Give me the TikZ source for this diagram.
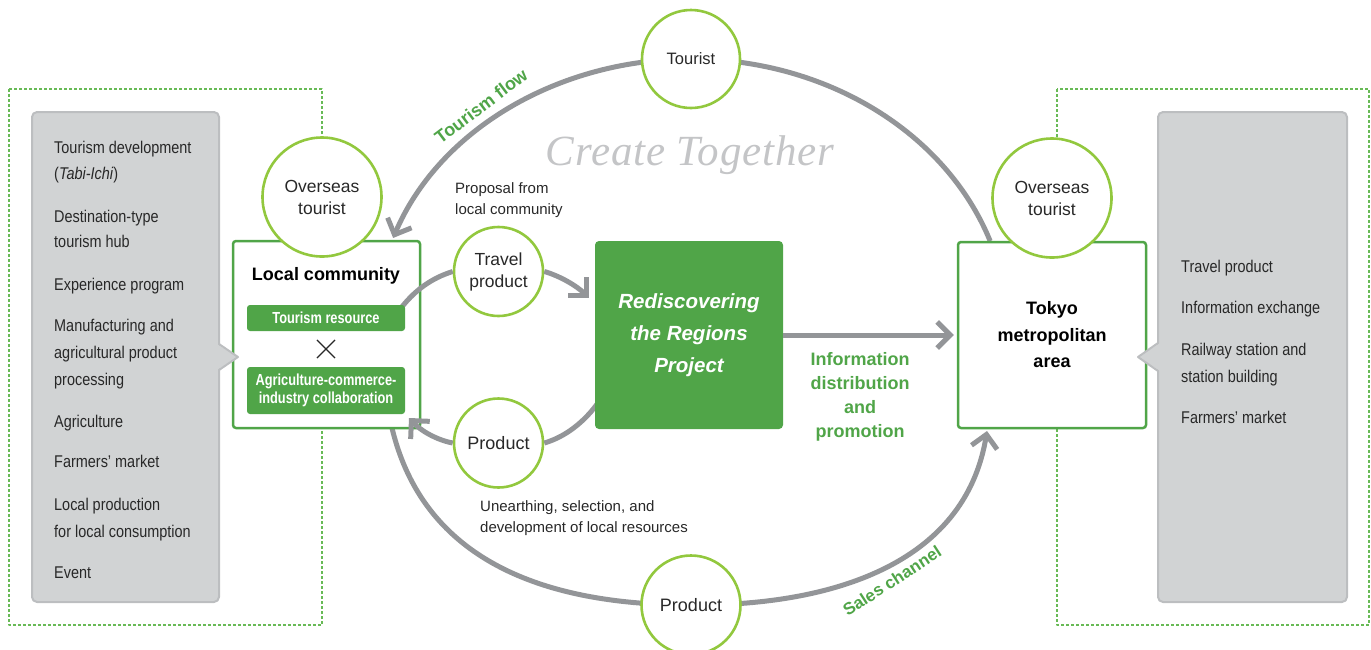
\documentclass[tikz,border=0pt]{standalone}
\usepackage{fontspec}
\usetikzlibrary{arrows.meta,shapes.misc}
\newfontfamily\hv{Liberation Sans}
\newfontfamily\hvn[FakeStretch=0.85]{Liberation Sans}
\newfontfamily\hvc[FakeStretch=0.8]{Liberation Sans}
\newfontfamily\tms[LetterSpace=2]{Liberation Serif}
\definecolor{leaf}{RGB}{80,165,72}
\definecolor{lime}{RGB}{146,200,62}
\definecolor{dashgreen}{RGB}{104,186,86}
\definecolor{flowgray}{RGB}{147,149,152}
\definecolor{panelfill}{RGB}{209,211,212}
\definecolor{panelline}{RGB}{188,190,192}
\definecolor{ink}{RGB}{40,40,40}
\definecolor{ghost}{RGB}{196,197,199}
\newcommand{\fs}[2]{\fontsize{#1}{#2}\selectfont}
\begin{document}
\begin{tikzpicture}[x=1pt, y=-1pt, line join=round, >={Straight Barb[length=13pt,width=26pt]},
	flow/.style={draw=flowgray, line width=5pt},
	bubble/.style={circle, draw=lime, line width=2.6pt, fill=white, inner sep=0pt, align=center, text=ink, font=\hv\fs{17.5}{22}},
	framebox/.style={rectangle, draw=leaf, line width=2.5pt, fill=white, rounded corners=3pt, inner sep=0pt},
	bar/.style={rectangle, fill=leaf, rounded corners=3pt, minimum width=158pt, inner sep=0pt, text=white, align=center, font=\hvc\bfseries\fs{16}{18.5}},
	panel/.style={fill=panelfill, draw=panelline, line width=2pt},
	zone/.style={draw=dashgreen, line width=1.2pt, dash pattern=on 3pt off 2pt},
	item/.style={anchor=base west, inner sep=0pt, text=ink, font=\hvn\fs{17}{26}},
	greenlabel/.style={text=leaf, align=center, font=\hv\bfseries\fs{18}{24}},
	note/.style={text=ink, align=left, inner sep=0pt, font=\hv\fs{15}{21}}]
	\useasboundingbox (0,0) rectangle (1371,649);
	\draw[zone] (9,89) rectangle (322,625);
	\draw[zone] (1057,89) rectangle (1369,625);
	
	\coordinate (tourTop) at (691,59);
	\coordinate (prodBot) at (691,605);
	\coordinate (lcFoot) at (392,428);
	\coordinate (tkFoot) at (987,431);
	\draw[flow,->] (tourTop) arc[start angle=270, end angle=200, x radius=317, y radius=272];
	\draw[flow] (tourTop) arc[start angle=270, end angle=340.7, x radius=317, y radius=272];
	\draw[flow] (lcFoot) .. controls (420,545) and (520,605) .. (prodBot);
	\draw[flow,->] (prodBot) .. controls (830,606) and (965,565) .. (tkFoot);
	
	\node[framebox, minimum width=187pt, minimum height=187pt] (local) at (326.5,334.5) {};
	\node[framebox, minimum width=188pt, minimum height=186pt, align=center, text=black, font=\hv\bfseries\fs{18}{26.5}] (tokyo) at (1052,335) {Tokyo\\metropolitan\\area};
	\node[bubble, minimum size=119pt] (osLeft) at (322,197) {Overseas\\tourist};
	\node[bubble, minimum size=119pt] (osRight) at (1052,198) {Overseas\\tourist};
	\node[bubble, minimum size=98pt, font=\hv\fs{16.5}{20}] (tourist) at (tourTop) {Tourist};
	\node[bubble, minimum size=99pt, font=\hv\fs{18}{22}] (product) at (prodBot) {Product};
	\node[anchor=base, text=black, font=\hv\bfseries\fs{18}{22}] (lcTitle) at (326,280) {Local community};
	
	\node[bubble, minimum size=89pt] (travel) at (498.5,271.5) {Travel\\product};
	\node[bubble, minimum size=89pt, font=\hv\fs{18}{22}] (goods) at (498.5,443) {Product};
	\coordinate (trOut) at (398,312);
	\coordinate (tpTip) at (589,298);
	\coordinate (pjOut) at (600,400);
	\coordinate (gdTip) at (409,418);
	\draw[flow] (trOut) .. controls (414,290) and (432,278) .. (travel.west);
	\draw[flow,->] (travel.east) .. controls (560,276) and (577,286) .. (tpTip);
	\draw[flow] (pjOut) .. controls (585,422) and (565,437) .. (goods.east);
	\draw[flow,->] (goods.west) .. controls (437,440) and (421,431) .. (gdTip);
	
	\node[rectangle, fill=leaf, rounded corners=4pt, minimum width=188pt, minimum height=188pt, align=center, text=white, font=\hv\bfseries\itshape\fs{20.5}{32}] (proj) at (689,335) {Rediscovering\\the Regions\\Project};
	\draw[flow,->] (proj.east) -- ([xshift=-3pt]tokyo.west);
	
	\node[bar, minimum height=26pt] (tres) at (326,318) {Tourism resource};
	\node[cross out, draw=ink, line width=1.1pt, minimum size=17pt, inner sep=0pt] (times) at (326,349) {};
	\node[bar, minimum height=47pt] (agri) at (326,390.5) {Agriculture-commerce-\\industry collaboration};
	
	\draw[panel, rounded corners=5pt] (32,112) rectangle (219,602);
	\fill[panelfill] (217,344) -- (238,357) -- (217,370) -- cycle;
	\draw[panelline, line width=2pt] (219,344) -- (238,357) -- (219,370);
	\draw[panel, rounded corners=5pt] (1158,112) rectangle (1347,602);
	\fill[panelfill] (1160,343) -- (1138,357) -- (1160,371) -- cycle;
	\draw[panelline, line width=2pt] (1158,343) -- (1138,357) -- (1158,371);
	\foreach \yy/\txt in {153/Tourism development, 179/(\textit{Tabi-Ichi}), 222/Destination-type, 247/tourism hub, 290/Experience program, 331/Manufacturing and, 358/agricultural product, 385/processing, 427/Agriculture, 467/Farmers’ market, 510/Local production, 537/for local consumption, 578/Event}
		\node[item] (lt\yy) at (54,\yy) {\txt};
	\foreach \yy/\txt in {272/Travel product, 313/Information exchange, 355/Railway station and, 382/station building, 423/Farmers’ market}
		\node[item] (rt\yy) at (1181,\yy) {\txt};
	
	\node[greenlabel] (info) at (860,397) {Information\\distribution\\and\\promotion};
	\node[greenlabel, rotate=37] (tflow) at (481,106) {Tourism flow};
	\node[greenlabel, rotate=33, font=\hv\bfseries\fs{17}{22}] (sales) at (892,581) {Sales channel};
	\node[note, anchor=west] (proposal) at (455,200) {Proposal from\\local community};
	\node[note, anchor=west] (unearth) at (480,518) {Unearthing, selection, and\\development of local resources};
	\node[anchor=base, text=ghost, font=\tms\itshape\fs{43}{43}] (motto) at (690,165) {Create Together};
\end{tikzpicture}
\end{document}
